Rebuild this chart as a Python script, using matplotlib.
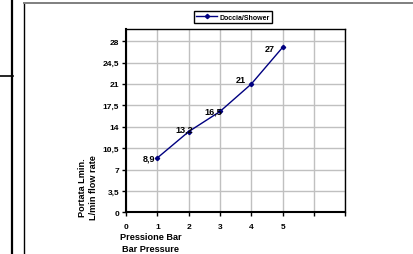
import numpy as np
import matplotlib
matplotlib.use('Agg')
from matplotlib import pyplot as plt
from matplotlib.lines import Line2D

pressure = [1, 2, 3, 4, 5]
flow = [8.9, 13.2, 16.5, 21, 27]
point_labels = ['8,9', '13,2', '16,5', '21', '27']
xticks = [0, 1, 2, 3, 4, 5, 6, 7]
xtick_labels = ['0', '1', '2', '3', '4', '5', '', '']
yticks = [0, 3.5, 7, 10.5, 14, 17.5, 21, 24.5, 28]
ytick_labels = ['0', '3,5', '7', '10,5', '14', '17,5', '21', '24,5', '28']

# label offsets in pixels (right edge, vertical centre) relative to each point
label_dx = [-2, 4, 2, -5, -8]
label_dy = [0, 3, 0.5, 4, -1.5]

plt.rcParams['font.family'] = ['Liberation Sans', 'DejaVu Sans']
plt.rcParams['font.weight'] = 'bold'

W, H = 414, 255
fig = plt.figure(figsize=(W / 100, H / 100), dpi=100)
fig.patch.set_facecolor('white')

# frame decorations around the chart
fig.add_artist(Line2D([12.5 / W, 12.5 / W], [0, 1], color='black', lw=1.6))
fig.add_artist(Line2D([0, 13 / W], [1 - 76.5 / H, 1 - 76.5 / H], color='black', lw=1.2))
fig.add_artist(Line2D([24.5 / W, 24.5 / W], [0, 1 - 4 / H], color='black', lw=1.0))
fig.add_artist(Line2D([24.5 / W, 1], [1 - 4 / H, 1 - 4 / H], color='#7f7f7f', lw=1.4))

ax = fig.add_axes([126 / W, 1 - 213.3 / H, (345.3 - 126) / W, (213.3 - 30) / H])
line, = ax.plot(pressure, flow, color='#000080', lw=1.0, marker='D', markersize=2.2,
                label='Doccia/Shower')

for x, y, t, dx, dy in zip(pressure, flow, point_labels, label_dx, label_dy):
    ax.annotate(t, (x, y), xytext=(dx * 0.72, dy * 0.72), textcoords='offset points',
                ha='right', va='center', fontsize=6.5, fontweight='bold')

ax.set_xlim(0, 7)
ax.set_ylim(0, 30)
ax.set_xticks(xticks)
ax.set_xticklabels(xtick_labels)
ax.set_yticks(yticks)
ax.set_yticklabels(ytick_labels)
ax.tick_params(direction='out', length=3, width=1, labelsize=6, pad=2)
ax.tick_params(axis='x', pad=5)
ax.grid(True, color='#c0c0c0', lw=1.0)
ax.set_axisbelow(True)
for s in ['left', 'bottom']:
    ax.spines[s].set_linewidth(1.5)
for s in ['top', 'right']:
    ax.spines[s].set_linewidth(1.0)

fig.text(151 / W, 1 - 243.5 / H, 'Pressione Bar\nBar Pressure', ha='center', va='center',
         fontsize=6.6, fontweight='bold', multialignment='center', linespacing=1.3)
fig.text(88 / W, 1 - 188 / H, 'Portata Lmin.\nL/min flow rate', ha='center', va='center',
         rotation=90, fontsize=6.6, fontweight='bold', multialignment='center', linespacing=1.3)

leg = fig.legend(handles=[line], loc='center', bbox_to_anchor=(233 / W, 1 - 18 / H),
                 fontsize=5, fancybox=False, framealpha=1, edgecolor='black',
                 handlelength=3, borderpad=0.3, handletextpad=0.3)
leg.get_frame().set_linewidth(1.0)

fig.savefig('out.png', dpi=100)
